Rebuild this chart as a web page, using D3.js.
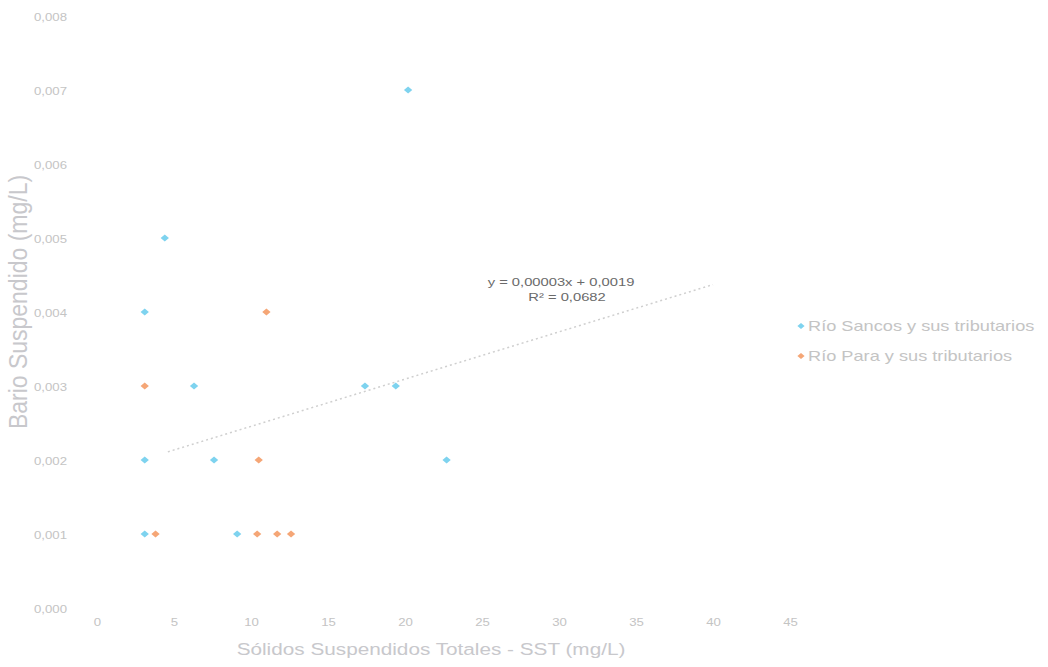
<!DOCTYPE html>
<html>
<head>
<meta charset="utf-8">
<script src="https://cdn.jsdelivr.net/npm/d3@7"></script>
<style>
html,body{margin:0;padding:0;background:#fff;}
text{font-family:"Liberation Sans", Arial, sans-serif;}
</style>
</head>
<body>
<svg id="chart" width="1048" height="667"></svg>
<script>
// ---- data ----
const seriesNames = ["Río Sancos y sus tributarios", "Río Para y sus tributarios"];
const sancosX = [20.2, 4.4, 3.1, 6.3, 17.4, 19.4, 3.1, 7.6, 22.7, 3.1, 9.1];
const sancosY = [0.007, 0.005, 0.004, 0.003, 0.003, 0.003, 0.002, 0.002, 0.002, 0.001, 0.001];
const paraX = [3.1, 11.0, 10.5, 3.8, 10.4, 11.7, 12.6];
const paraY = [0.003, 0.004, 0.002, 0.001, 0.001, 0.001, 0.001];
const trendX = [4.6, 40];
const trendY = [0.00211, 0.00437];
const xTicks = [0, 5, 10, 15, 20, 25, 30, 35, 40, 45];
const yTicks = [0, 0.001, 0.002, 0.003, 0.004, 0.005, 0.006, 0.007, 0.008];
const equationLines = ["y = 0,00003x + 0,0019", "R² = 0,0682"];
const xTitle = "Sólidos Suspendidos Totales  - SST (mg/L)";
const yTitle = "Bario Suspendido (mg/L)";

const colors = ["#7ed3ef", "#f5a676"];
const svg = d3.select("#chart");
const SX = 1.3; // horizontal stretch of the original picture

const x = d3.scaleLinear().domain([0, 45]).range([97, 790]);
const y = d3.scaleLinear().domain([0, 0.008]).range([608, 16]);

function stretchedText(g, px, py, str, opts) {
  return g.append("text")
    .attr("transform", `translate(${px},${py}) scale(${opts.sx || SX},1)`)
    .attr("text-anchor", opts.anchor || "start")
    .attr("fill", opts.fill).attr("font-size", opts.size).text(str);
}

// axes (labels only)
const fmtY = d => d3.format(".3f")(d).replace(".", ",");
const xAxis = svg.append("g")
  .call(d3.axisBottom(x).tickValues(xTicks).tickSize(0).tickFormat(() => ""));
xAxis.select(".domain").remove();
xAxis.selectAll(".tick").each(function(d) {
  stretchedText(d3.select(this), 0, 626, d3.format("d")(d), {anchor: "middle", fill: "#c4c4c4", size: 11, sx: 1.2});
});

const yAxis = svg.append("g")
  .call(d3.axisLeft(y).tickValues(yTicks).tickSize(0).tickFormat(() => ""));
yAxis.select(".domain").remove();
yAxis.selectAll(".tick").each(function(d) {
  stretchedText(d3.select(this), 67, 4, fmtY(d), {anchor: "end", fill: "#c4c4c4", size: 11, sx: 1.2});
});

// titles
stretchedText(svg, 431, 655, xTitle, {anchor: "middle", fill: "#c8c8cc", size: 17, sx: 1.22});
svg.append("text").attr("transform", "translate(27,302) rotate(-90) scale(1,1.1)")
  .attr("text-anchor", "middle").attr("fill", "#c8c8cc").attr("font-size", 23).text(yTitle);

// trendline
svg.append("line")
  .attr("x1", x(trendX[0])).attr("y1", y(trendY[0]))
  .attr("x2", x(trendX[1])).attr("y2", y(trendY[1]))
  .attr("stroke", "#cfcfcf").attr("stroke-width", 1.5).attr("stroke-dasharray", "2,3");

// equation
stretchedText(svg, 561, 286, equationLines[0], {anchor: "middle", fill: "#6a6a6a", size: 11, sx: 1.34});
stretchedText(svg, 567, 301, equationLines[1], {anchor: "middle", fill: "#6a6a6a", size: 11, sx: 1.34});

// points
const sym = d3.symbol().type(d3.symbolSquare).size(24);
const groups = [
  sancosX.map((v, i) => [v, sancosY[i]]),
  paraX.map((v, i) => [v, paraY[i]])
];
groups.forEach((pts, gi) => {
  svg.append("g").selectAll("path").data(pts).join("path")
    .attr("d", sym)
    .attr("transform", d => `translate(${x(d[0])},${y(d[1])}) scale(1.2,1) rotate(45)`)
    .attr("fill", colors[gi]);
});

// legend
seriesNames.forEach((name, i) => {
  const ly = 326 + i * 30;
  svg.append("path").attr("d", d3.symbol().type(d3.symbolSquare).size(18))
    .attr("transform", `translate(801,${ly}) scale(1.2,1) rotate(45)`).attr("fill", colors[i]);
  stretchedText(svg, 808, ly + 5, name, {anchor: "start", fill: "#c4c4c4", size: 14, sx: 1.3});
});
</script>
</body>
</html>
